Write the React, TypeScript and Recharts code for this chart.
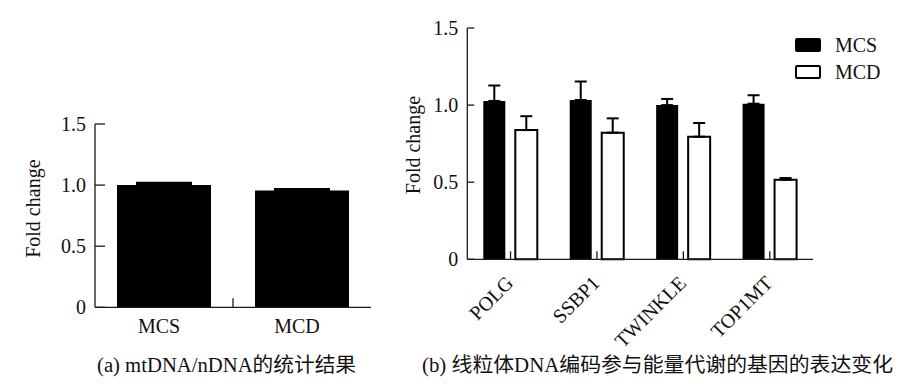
import { BarChart, Bar, XAxis, YAxis, ErrorBar, Legend, Label } from 'recharts';

// (a) mtDNA/nDNA
const groupLabels = ['MCS', 'MCD'];
const ratioValues = [1.0, 0.955];
const ratioErrors = [0.016, 0.01];

// (b) gene expression
const genes = ['POLG', 'SSBP1', 'TWINKLE', 'TOP1MT'];
const seriesNames = ['MCS', 'MCD'];
const mcsValues = [1.027, 1.033, 1.0, 1.009];
const mcsErrors = [0.1, 0.12, 0.04, 0.055];
const mcdValues = [0.838, 0.821, 0.795, 0.516];
const mcdErrors = [0.09, 0.093, 0.089, 0.011];

const yTicks = [0, 0.5, 1.0, 1.5];
const yTickLabels = ['0', '0.5', '1.0', '1.5'];
const yTitle = 'Fold change';
const captionA = '(a) mtDNA/nDNA的统计结果';
const captionB = '(b) 线粒体DNA编码参与能量代谢的基因的表达变化';

const ratioData = groupLabels.map((g, i) => ({
  group: g,
  value: ratioValues[i],
  err: [0, ratioErrors[i]],
}));

const geneData = genes.map((g, i) => ({
  gene: g,
  MCS: mcsValues[i],
  MCSerr: [0, mcsErrors[i]],
  MCD: mcdValues[i],
  MCDerr: [0, mcdErrors[i]],
}));

const FONT = "'Liberation Serif', 'Times New Roman', 'Noto Sans CJK SC', serif";
const INK = '#111';
const AXIS = '#1a1a1a';
const seriesFills = ['#000', '#fff'];

const makeYTick = (len: number) => (props: any) => {
  const { x, y, payload } = props;
  const i = yTicks.indexOf(payload.value);
  return (
    <g>
      <line x1={x} x2={x + len} y1={y} y2={y} stroke={AXIS} strokeWidth={1.3} />
      <text x={x - 9} y={y} dy="0.35em" textAnchor="end" fontSize={20} fontFamily={FONT} fill={INK}>
        {i >= 0 ? yTickLabels[i] : payload.value}
      </text>
    </g>
  );
};

const yTitleContent = (dx: number, dy: number) => (props: any) => {
  const vb = props.viewBox || { x: 0, y: 0, width: 0, height: 0 };
  const cx = vb.x + dx;
  const cy = vb.y + vb.height / 2 + dy;
  return (
    <text x={cx} y={cy} transform={`rotate(-90, ${cx}, ${cy})`} textAnchor="middle" fontSize={20} fontFamily={FONT} fill={INK}>
      {yTitle}
    </text>
  );
};

// left chart: plot 95..371
const LEFT_BAND = (400 - 55 - 29 - 40) / groupLabels.length;

const GroupTick = (props: any) => {
  const { x, y, payload, index } = props;
  const half = payload.offset || LEFT_BAND / 2;
  return (
    <g>
      {index > 0 && <line x1={x - half} x2={x - half} y1={y} y2={y - 9} stroke={AXIS} strokeWidth={1.3} />}
      <text x={x - 5} y={y + 26} textAnchor="middle" fontSize={20} fontFamily={FONT} fill={INK}>
        {payload.value}
      </text>
    </g>
  );
};

const GeneTick = (props: any) => {
  const { x, y, payload } = props;
  const tx = x + 4;
  const ty = y + 25;
  return (
    <g>
      <line x1={x} x2={x} y1={y} y2={y - 8} stroke={AXIS} strokeWidth={1.3} />
      <text x={tx} y={ty} transform={`rotate(-45, ${tx}, ${ty})`} textAnchor="end" fontSize={20} fontFamily={FONT} fill={INK}>
        {payload.value}
      </text>
    </g>
  );
};

const LegendBox = () => (
  <div style={{ fontFamily: FONT, color: INK }}>
    {seriesNames.map((name, i) => (
      <div key={name} style={{ display: 'flex', alignItems: 'center', height: 27 }}>
        <span
          style={{
            display: 'inline-block',
            width: 26,
            height: 14,
            boxSizing: 'border-box',
            background: seriesFills[i],
            border: '2px solid #000',
            borderRadius: 2,
          }}
        />
        <span style={{ marginLeft: 14, fontSize: 20, lineHeight: '20px' }}>{name}</span>
      </div>
    ))}
  </div>
);

export default function App() {
  return (
    <div style={{ position: 'absolute', left: 0, top: 0, width: 904, height: 384, background: '#fff', overflow: 'hidden' }}>
      <div style={{ position: 'absolute', left: 0, top: 0 }}>
        <BarChart width={400} height={384} data={ratioData} margin={{ top: 124, right: 29, bottom: 46.7, left: 55 }} barSize={94}>
          <XAxis
            dataKey="group"
            height={30}
            interval={0}
            tickLine={false}
            tickSize={0}
            tickMargin={0}
            axisLine={{ stroke: AXIS, strokeWidth: 1.3 }}
            tick={<GroupTick />}
          />
          <YAxis
            width={40}
            domain={[0, 1.5]}
            ticks={yTicks}
            interval={0}
            tickLine={false}
            tickSize={0}
            tickMargin={0}
            axisLine={{ stroke: AXIS, strokeWidth: 1.3 }}
            tick={makeYTick(10)}
          >
            <Label content={yTitleContent(-15, -7)} />
          </YAxis>
          <Bar dataKey="value" fill="#000" isAnimationActive={false}>
            <ErrorBar dataKey="err" width={28} strokeWidth={3} stroke="#000" direction="y" isAnimationActive={false} />
          </Bar>
        </BarChart>
      </div>

      <div style={{ position: 'absolute', left: 400, top: 0 }}>
        <BarChart width={504} height={384} data={geneData} margin={{ top: 28, right: 91, bottom: 94.7, left: 27.3 }} barSize={22} barGap={10}>
          <XAxis
            dataKey="gene"
            height={30}
            interval={0}
            tickLine={false}
            tickSize={0}
            tickMargin={0}
            axisLine={{ stroke: AXIS, strokeWidth: 1.3 }}
            tick={<GeneTick />}
          />
          <YAxis
            width={40}
            domain={[0, 1.5]}
            ticks={yTicks}
            interval={0}
            tickLine={false}
            tickSize={0}
            tickMargin={0}
            axisLine={{ stroke: AXIS, strokeWidth: 1.3 }}
            tick={makeYTick(7)}
          >
            <Label content={yTitleContent(-7, 1.4)} />
          </YAxis>
          <Legend
            layout="vertical"
            align="center"
            verticalAlign="middle"
            wrapperStyle={{ left: 395, top: 31, width: 100, height: 60 }}
            content={<LegendBox />}
          />
          <Bar dataKey="MCS" name={seriesNames[0]} fill={seriesFills[0]} isAnimationActive={false}>
            <ErrorBar dataKey="MCSerr" width={6} strokeWidth={2} stroke="#000" direction="y" isAnimationActive={false} />
          </Bar>
          <Bar dataKey="MCD" name={seriesNames[1]} fill={seriesFills[1]} stroke="#000" strokeWidth={2} isAnimationActive={false}>
            <ErrorBar dataKey="MCDerr" width={6} strokeWidth={2} stroke="#000" direction="y" isAnimationActive={false} />
          </Bar>
        </BarChart>
      </div>

      <svg width={904} height={384} style={{ position: 'absolute', left: 0, top: 0, pointerEvents: 'none' }}>
        <text x={97} y={372} textLength={259} lengthAdjust="spacingAndGlyphs" fontSize={20} fontFamily={FONT} fill={INK}>
          {captionA}
        </text>
        <text x={422} y={372} textLength={471} lengthAdjust="spacingAndGlyphs" fontSize={20} fontFamily={FONT} fill={INK}>
          {captionB}
        </text>
      </svg>
    </div>
  );
}
